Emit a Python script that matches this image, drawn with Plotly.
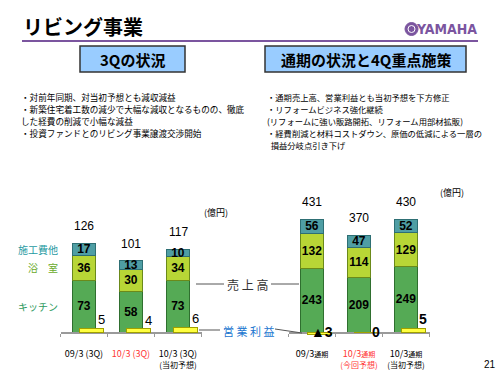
import plotly.graph_objects as go

# ---------------- data ----------------
q_periods = ["09/3 (3Q)", "10/3 (3Q)", "10/3 (3Q) 当初予想"]
q_ticklabels = [
    "09/3 (3Q)",
    "<span style='color:#ff3333'>10/3 (3Q)</span>",
    "10/3 (3Q)<br><span style='font-size:8px'>(当初予想)</span>",
]
q_kitchen = [73, 58, 73]
q_bath = [36, 30, 34]
q_other = [17, 13, 10]
q_total = [126, 101, 117]
q_profit = [5, 4, 6]

y_periods = ["09/3通期", "10/3通期 今回予想", "10/3通期 当初予想"]
y_ticklabels = [
    "09/3<span style='font-size:7px'>通期</span>",
    "<span style='color:#ff3333'>10/3</span><span style='color:#ff3333;font-size:7px'>通期</span><br><span style='color:#ff3333;font-size:8px'>(今回予想)</span>",
    "10/3<span style='font-size:7px'>通期</span><br><span style='font-size:8px'>(当初予想)</span>",
]
y_kitchen = [243, 209, 249]
y_bath = [132, 114, 129]
y_other = [56, 47, 52]
y_total = [431, 370, 430]
y_profit = [-3, 0, 5]

segment_names = ["キッチン", "浴　室", "施工費他"]
unit_label = "(億円)"

left_bullets = [
    "・対前年同期、対当初予想とも減収減益",
    "・新築住宅着工数の減少で大幅な減収となるものの、徹底",
    "した経費の削減で小幅な減益",
    "・投資ファンドとのリビング事業譲渡交渉開始",
]
right_bullets = [
    "・通期売上高、営業利益とも当初予想を下方修正",
    "・リフォームビジネス強化継続",
    "(リフォームに強い販路開拓、リフォーム用部材拡販)",
    "・経費削減と材料コストダウン、原価の低減による一層の",
    "  損益分岐点引き下げ",
]

# ---------------- style ----------------
W, H = 500, 375
JP = "Noto Sans CJK JP"
NUM = "Liberation Sans"
C_KIT, C_KIT_L = "#55aa55", "#2f6f2f"
C_BATH, C_BATH_L = "#b8d636", "#6b8a1a"
C_OTH, C_OTH_L = "#4f9ea4", "#2e6f74"
C_PRO, C_PRO_L = "#ffff40", "#a0a000"
PURPLE = "#7b559f"


def px(x):
    return x / W


def py(y):
    return 1 - y / H


BASE = 332
TOP = 180
BW = 0.51
S_OFF = -BW / 2
P_OFF = -BW / 2 + 0.15

fig = go.Figure()


def add_sales(xaxis, yaxis, cats, kit, bath, oth):
    for vals, col, lc in [(kit, C_KIT, C_KIT_L), (bath, C_BATH, C_BATH_L), (oth, C_OTH, C_OTH_L)]:
        fig.add_trace(go.Bar(
            x=cats, y=vals, xaxis=xaxis, yaxis=yaxis,
            width=BW, offset=S_OFF,
            marker=dict(color=col, line=dict(color=lc, width=1)),
            text=vals, textposition="inside", insidetextanchor="middle",
            constraintext="none", textangle=0,
            textfont=dict(family=NUM, size=12, color="black", weight="bold"),
            hoverinfo="skip", showlegend=False,
        ))


def add_profit(xaxis, yaxis, cats, vals):
    fig.add_trace(go.Bar(
        x=cats, y=vals, xaxis=xaxis, yaxis=yaxis,
        width=BW, offset=P_OFF, base=0,
        marker=dict(color=C_PRO, line=dict(color=C_PRO_L, width=1)),
        hoverinfo="skip", showlegend=False,
    ))


add_sales("x", "y", q_periods, q_kitchen, q_bath, q_other)
add_sales("x2", "y2", y_periods, y_kitchen, y_bath, y_other)
add_profit("x", "y3", q_periods, q_profit)
add_profit("x2", "y4", y_periods, y_profit)

# axis scales
L_SCALE = 0.706  # px per unit (left)
R_SCALE = 0.262  # px per unit (right)
P_SCALE = 0.8
ydom = [py(BASE), py(TOP)]
pdom = [py(345), py(300)]

xcommon = dict(type="category", range=[-0.5, 2.5], showline=True, linecolor="#9a9a9a",
               linewidth=1.5, ticks="outside", ticklen=3, tickcolor="#9a9a9a",
               tickson="boundaries", showgrid=False, zeroline=False, tickangle=0,
               tickfont=dict(family=JP, size=9, color="black"), ticklabelstandoff=12,
               tickmode="array")

fig.update_layout(
    width=W, height=H, margin=dict(l=0, r=0, t=0, b=0),
    paper_bgcolor="white", plot_bgcolor="rgba(0,0,0,0)",
    barmode="stack", showlegend=False,
    uniformtext=dict(minsize=12, mode="show"),
    xaxis=dict(domain=[px(60.5), px(201.5)], anchor="y", tickvals=q_periods, ticktext=q_ticklabels, **xcommon),
    xaxis2=dict(domain=[px(288.5), px(429.5)], anchor="y2", tickvals=y_periods, ticktext=y_ticklabels, **xcommon),
    yaxis=dict(domain=ydom, range=[0, (BASE - TOP) / L_SCALE], visible=False, anchor="x"),
    yaxis2=dict(domain=ydom, range=[0, (BASE - TOP) / R_SCALE], visible=False, anchor="x2"),
    yaxis3=dict(domain=pdom, range=[-(345 - BASE) / P_SCALE, (BASE - 300) / P_SCALE], visible=False, anchor="x"),
    yaxis4=dict(domain=pdom, range=[-(345 - BASE) / P_SCALE, (BASE - 300) / P_SCALE], visible=False, anchor="x2"),
)

ann = []


def note(x, y, text, size, color="black", family=JP, xanchor="center", yanchor="middle", weight="normal",
         xref="paper", yref="paper", **kw):
    ann.append(dict(x=x, y=y, xref=xref, yref=yref, text=text, showarrow=False,
                    xanchor=xanchor, yanchor=yanchor, borderpad=0,
                    font=dict(family=family, size=size, color=color, weight=weight), **kw))


# totals
for xa, ya, cats, tots in [("x", "y", q_periods, q_total), ("x2", "y2", y_periods, y_total)]:
    for c, t in zip(cats, tots):
        note(c, t, str(t), 12, family=NUM, xref=xa, yref=ya, yshift=17)

# profit labels
for xa, ya, cats, vals, bold in [("x", "y3", q_periods, q_profit, False), ("x2", "y4", y_periods, y_profit, True)]:
    for i, v in enumerate(vals):
        txt = f"▲{abs(v)}" if v < 0 else str(v)
        note(i + P_OFF + BW, max(v, 0), txt, 14 if bold else 13, family=NUM, xref=xa, yref=ya,
             xanchor="right", yanchor="bottom" if v > 0 else "middle", xshift=3,
             weight="bold" if bold else "normal")

# segment names on the left
mids = [q_kitchen[0] / 2, q_kitchen[0] + q_bath[0] / 2, q_kitchen[0] + q_bath[0] + q_other[0] / 2]
for name, m, col in zip(segment_names, mids, ["#2e9a5e", "#6aaa2a", "#1f9aa2"]):
    note(px(59), m, name, 10, color=col, yref="y", xanchor="right")

# units
note(px(216), py(213), unit_label, 9)
note(px(452), py(192), unit_label, 9)

# middle labels
note(px(247), py(284), "売 上 高", 12, color="#333333")
note(px(248), py(331), "営 業 利 益", 11, color="#1a75cf")

# header
note(px(22), py(26), "リビング事業", 20, xanchor="left", weight="bold")
note(px(478), py(29), "YAMAHA", 14, color=PURPLE, xanchor="right",
     family="DejaVu Sans Condensed, Liberation Sans, sans-serif", weight="bold")
note(px(132.5), py(59), "3Qの状況", 15, weight="bold")
note(px(365.5), py(59), "通期の状況と4Q重点施策", 15, weight="bold")

# bullets
for i, t in enumerate(left_bullets):
    note(px(20), py(97 + i * 12), t, 8.6, xanchor="left")
for i, t in enumerate(right_bullets):
    note(px(266), py(97 + i * 12), t, 8.3, xanchor="left")

note(px(490), py(364), "21", 10, family=NUM)

fig.update_layout(annotations=ann)

shapes = [
    dict(type="line", xref="paper", yref="paper", x0=px(22), x1=px(478), y0=py(41), y1=py(41),
         line=dict(color=PURPLE, width=2)),
    dict(type="rect", xref="paper", yref="paper", x0=px(80), x1=px(185), y0=py(72), y1=py(46),
         fillcolor="#99ccff", line=dict(color="#333333", width=1.5), layer="below"),
    dict(type="rect", xref="paper", yref="paper", x0=px(265), x1=px(466), y0=py(72), y1=py(46),
         fillcolor="#99ccff", line=dict(color="#333333", width=1.5), layer="below"),
    dict(type="circle", xref="paper", yref="paper", x0=px(405), x1=px(418), y0=py(35.5), y1=py(22.5),
         fillcolor=PURPLE, line=dict(color=PURPLE, width=1)),
    dict(type="circle", xref="paper", yref="paper", x0=px(408), x1=px(415), y0=py(32.5), y1=py(25.5),
         fillcolor="rgba(0,0,0,0)", line=dict(color="white", width=1)),
    # 売上高 connectors
    dict(type="line", xref="paper", yref="paper", x0=px(196), x1=px(224), y0=py(284), y1=py(284),
         line=dict(color="#555555", width=1)),
    dict(type="line", xref="paper", yref="paper", x0=px(271), x1=px(299), y0=py(284), y1=py(284),
         line=dict(color="#555555", width=1)),
    # 営業利益 connectors
    dict(type="line", xref="paper", yref="paper", x0=px(199), x1=px(220), y0=py(330), y1=py(330),
         line=dict(color="#555555", width=1)),
    dict(type="line", xref="paper", yref="paper", x0=px(275), x1=px(302), y0=py(329), y1=py(333),
         line=dict(color="#555555", width=1)),
]
fig.update_layout(shapes=shapes)

fig.write_html("out.html", config={"displayModeBar": False},
               post_script="document.body.style.margin='0';")
